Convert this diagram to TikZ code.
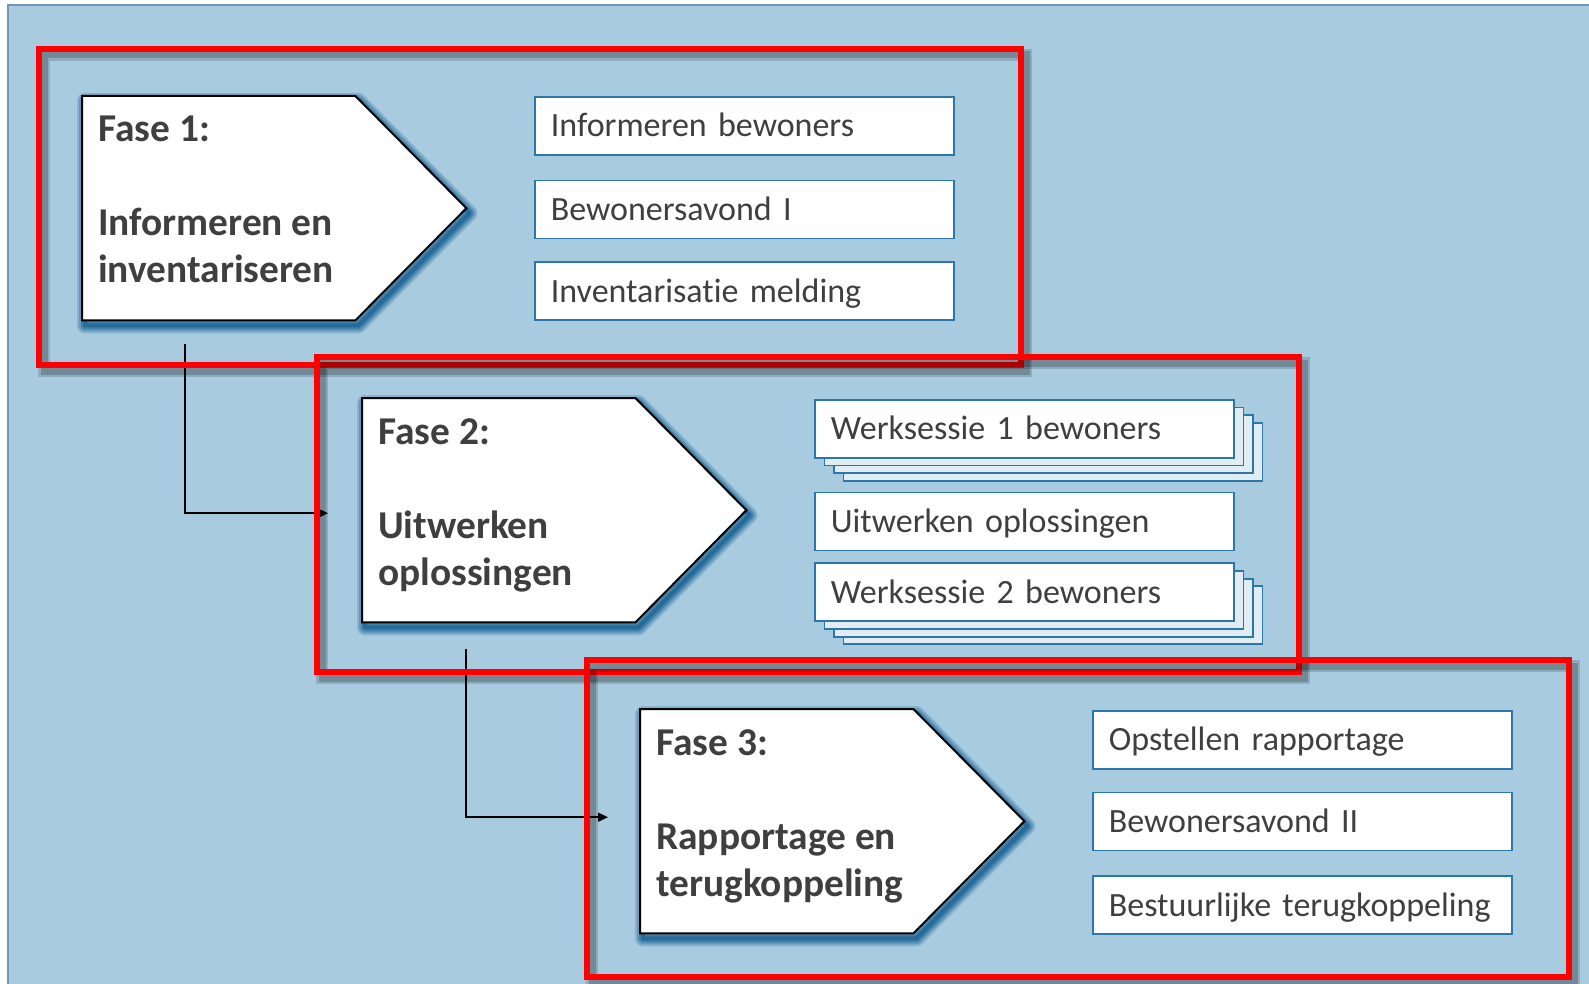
\documentclass[tikz,border=0pt]{standalone}
\usepackage{fontspec}
\setmainfont[Ligatures=NoCommon]{Carlito}
\usetikzlibrary{positioning,arrows.meta,shadows}

\definecolor{panel}{HTML}{A9CBE0}
\definecolor{panelline}{HTML}{7096BA}
\definecolor{taskline}{HTML}{2B78A8}
\definecolor{layerfill}{HTML}{E1ECF5}
\definecolor{txt}{HTML}{3F3F3F}
\definecolor{shade}{HTML}{1F6796}

\tikzset{
  phase/.style={rectangle, minimum width=273pt, minimum height=224pt, inner sep=0pt, anchor=north west},
  phasetxt/.style={anchor=north west, inner sep=0pt, align=left, text=txt,
    font=\fontsize{39.4}{47}\selectfont\bfseries},
  task/.style={rectangle, draw=taskline, line width=1.7pt, fill=white, anchor=north west,
    minimum width=419pt, minimum height=58pt, text width=387pt, inner xsep=16pt, inner ysep=0pt,
    align=left, text height=22pt, text depth=0pt, text=txt, font=\fontsize{34}{41}\selectfont},
  stacked/.style={task,
    copy shadow={shadow xshift=28.5pt, shadow yshift=-23pt, fill=layerfill, draw=taskline, line width=1.7pt},
    copy shadow={shadow xshift=19pt, shadow yshift=-15.4pt, fill=layerfill, draw=taskline, line width=1.7pt},
    copy shadow={shadow xshift=9.5pt, shadow yshift=-7.7pt, fill=layerfill, draw=taskline, line width=1.7pt}},
  pentagon/.style={draw=black, line width=2pt, fill=white, line join=miter},
  frame/.style={draw=red, line width=6.5pt},
  conn/.style={draw=black, line width=1.8pt, -{Triangle[length=10pt,width=9pt]}}
}

\begin{document}
\begin{tikzpicture}[x=1pt,y=-1pt]
\useasboundingbox (0,0) rectangle (1589,984);
% background panel
\fill[white] (0,0) rectangle (1589,984);
\fill[panel] (8,5) rectangle (1589,984);
\draw[panelline, line width=1.5pt] (8,984) -- (8,5) -- (1589,5);

% phases
\node[phase] (f1) at (82,96) {};
\node[phase] (f2) at (362,398) {};
\node[phase] (f3) at (640,709) {};

% connectors
\coordinate (s1) at ([xshift=103pt,yshift=-24pt]f1.south west);
\coordinate (e2) at ([xshift=-34pt,yshift=-3pt]f2.west);
\coordinate (s2) at ([xshift=104pt,yshift=-27pt]f2.south west);
\coordinate (e3) at ([xshift=-32pt,yshift=4pt]f3.west);
\draw[conn] (s1) |- (e2);
\draw[conn] (s2) |- (e3);

% pentagon arrows with shadow
\foreach \f in {f1,f2,f3}{
  \foreach \w/\c in {16/25,12/50,8/75,4/95}
    \draw[draw=shade!\c!panel, line width=\w pt, line join=round, transform canvas={shift={(3pt,-5pt)}}]
      (\f.north west) -- (\f.north east) -- ([xshift=111pt]\f.east) -- (\f.south east) -- (\f.south west) -- cycle;
  \draw[pentagon] (\f.north west) -- (\f.north east) -- ([xshift=111pt]\f.east) -- (\f.south east) -- (\f.south west) -- cycle;
}
\node[phasetxt] (l1) at ([xshift=16pt,yshift=-20pt]f1.north west) {Fase 1:\\[47pt]Informeren en\\inventariseren};
\node[phasetxt] (l2) at ([xshift=16pt,yshift=-20pt]f2.north west) {Fase 2:\\[47pt]Uitwerken\\oplossingen};
\node[phasetxt] (l3) at ([xshift=16pt,yshift=-20pt]f3.north west) {Fase 3:\\[47pt]Rapportage en\\terugkoppeling};

% tasks
\node[task] (t11) at (534,96) {Informeren bewoners};
\node[task, below=24pt of t11] (t12) {Bewonersavond I};
\node[task, below=22pt of t12] (t13) {Inventarisatie melding};

\node[stacked] (t21) at (814,399) {Werksessie 1 bewoners};
\node[task, below=33pt of t21] (t22) {Uitwerken oplossingen};
\node[stacked, below=11pt of t22] (t23) {Werksessie 2 bewoners};

\node[task] (t31) at (1092,710) {Opstellen rapportage};
\node[task, below=22pt of t31] (t32) {Bewonersavond II};
\node[task, below=24pt of t32] (t33) {Bestuurlijke terugkoppeling};

% red frames
\foreach \a/\b in {{39,49}/{1021,365},{317,357}/{1299,672},{587,660}/{1569,977}}{
  \draw[black, opacity=.15, line width=12pt, transform canvas={shift={(5pt,-6pt)}}] (\a) rectangle (\b);
  \draw[black, opacity=.2, line width=7pt, transform canvas={shift={(5pt,-6pt)}}] (\a) rectangle (\b);
  \draw[frame] (\a) rectangle (\b);
}
\end{tikzpicture}
\end{document}
